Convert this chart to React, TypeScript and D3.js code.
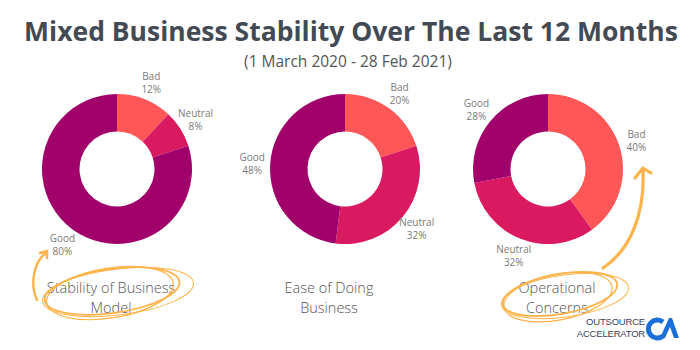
import React from "react";
import * as d3 from "d3";

const categories = ["Bad", "Neutral", "Good"];
const stabilityValues = [12, 8, 80];
const easeValues = [20, 32, 48];
const operationalValues = [40, 32, 28];
const seriesTitles = [
  ["Stability of Business", "Model"],
  ["Ease of Doing", "Business"],
  ["Operational", "Concerns"],
];

const colors = d3
  .scaleOrdinal<string, string>()
  .domain(categories)
  .range(["#FF5757", "#D91A60", "#A1006B"]);

const W = 700;
const H = 350;
const outerR = 75;
const innerR = 37.5;
const labelR = 93;
// donut centres and caption centres
const layout = [
  { cx: 117, cy: 169, tx: 111 },
  { cx: 345, cy: 169, tx: 329 },
  { cx: 548, cy: 169, tx: 557 },
];

const ORANGE = "#FDB34A";

function Donut({ values, idx }: { values: number[]; idx: number }) {
  const { cx, cy, tx } = layout[idx];
  const data = categories.map((c, i) => ({ cat: c, value: values[i] }));
  const pie = d3
    .pie<any>()
    .sort(null)
    .value((d: any) => d.value);
  const arcs = pie(data);
  const arc = d3.arc<any>().innerRadius(innerR).outerRadius(outerR);
  const labelArc = d3.arc<any>().innerRadius(labelR).outerRadius(labelR);

  return (
    <g>
      <g transform={`translate(${cx},${cy})`}>
        {arcs.map((a: any) => (
          <path key={a.data.cat} d={arc(a) as string} fill={colors(a.data.cat)} />
        ))}
        {arcs.map((a: any) => {
          const [lx, ly] = labelArc.centroid(a);
          return (
            <text
              key={"l" + a.data.cat}
              x={lx}
              y={ly}
              textAnchor="middle"
              fontSize={10}
              fill="#7a7a7a"
            >
              <tspan x={lx} dy="-2.5">{a.data.cat}</tspan>
              <tspan x={lx} dy="13">{a.data.value}%</tspan>
            </text>
          );
        })}
      </g>
      <text textAnchor="middle" fontSize={14.5} fontWeight={300} fill="#555">
        <tspan x={tx} y={293}>{seriesTitles[idx][0]}</tspan>
        <tspan x={tx} y={313}>{seriesTitles[idx][1]}</tspan>
      </text>
    </g>
  );
}

export default function App() {
  const all = [stabilityValues, easeValues, operationalValues];
  return (
    <div style={{ position: "absolute", left: 0, top: 0 }}>
      <svg
        width={W}
        height={H}
        style={{ display: "block", fontFamily: "'Open Sans', 'Noto Sans', sans-serif", background: "#fff" }}
      >
        <text x={351} y={41} textAnchor="middle" fontSize={26.5} fontWeight={700} fill="#434A54">
          Mixed Business Stability Over The Last 12 Months
        </text>
        <text x={348} y={67} textAnchor="middle" fontSize={15.5} fill="#555">
          (1 March 2020 - 28 Feb 2021)
        </text>

        {all.map((v, i) => (
          <Donut key={i} values={v} idx={i} />
        ))}

        {/* hand drawn annotations */}
        <g fill="none" stroke={ORANGE} strokeLinecap="round">
          <ellipse cx={112} cy={291} rx={68} ry={22} transform="rotate(-8 112 291)" strokeWidth={1.8} />
          <ellipse cx={118} cy={292} rx={76} ry={23} transform="rotate(-7 118 292)" strokeWidth={1} />
          <ellipse cx={110} cy={293} rx={64} ry={25} transform="rotate(-9 110 293)" strokeWidth={1.2} />
          <path d="M37,300 C30,285 33,262 47,252" strokeWidth={2.4} />
          <path d="M40,253 L47,251 L47,258" strokeWidth={2.4} />

          <ellipse cx={560} cy={294} rx={58} ry={20} transform="rotate(-10 560 294)" strokeWidth={1.8} />
          <ellipse cx={565} cy={296} rx={64} ry={21} transform="rotate(-8 565 296)" strokeWidth={1} />
          <ellipse cx={558} cy={297} rx={55} ry={23} transform="rotate(-11 558 297)" strokeWidth={1.2} />
          <path d="M603,268 C630,250 645,215 643,170" strokeWidth={3.2} />
          <path d="M635,178 L643,168 L651,173" strokeWidth={3.2} />
        </g>

        {/* logo */}
        <g>
          <text x={645} y={325} textAnchor="end" fontSize={9.5} fontFamily="'Liberation Sans', Arial, sans-serif" fill="#3B4252" letterSpacing={-0.2}>
            OUTSOURCE
          </text>
          <text x={645} y={336.5} textAnchor="end" fontSize={9.5} fontFamily="'Liberation Sans', Arial, sans-serif" fill="#3B4252" letterSpacing={-0.2}>
            ACCELERATOR
          </text>
          <path
            d="M663,322 A9,9 0 1 0 663,336"
            fill="none"
            stroke="#1A6FD8"
            strokeWidth={5}
          />
          <path d="M660,338 L669,318 L672,318 L679,338 L674,338 L670,327 L665,338 Z" fill="#1A6FD8" />
        </g>
      </svg>
    </div>
  );
}
